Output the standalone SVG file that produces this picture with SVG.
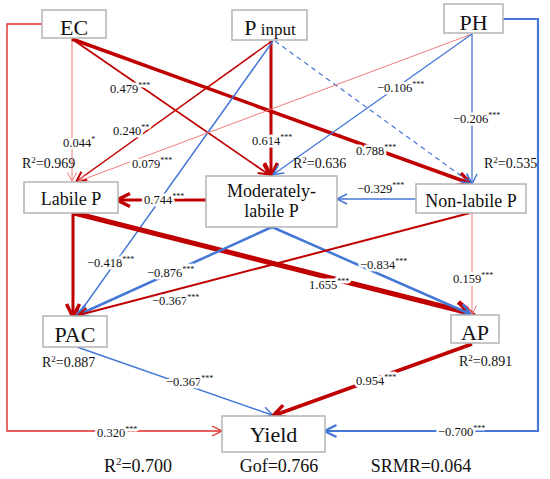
<svg xmlns="http://www.w3.org/2000/svg" width="550" height="479" viewBox="0 0 550 479" font-family="'Liberation Serif', 'DejaVu Serif', serif">
<style>
text{font-family:'Liberation Serif','DejaVu Serif',serif}
.bx{fill:#fff;stroke:#b4b4b4;stroke-width:1.5}
.nb{font-size:22px;fill:#111;text-anchor:middle}
.nm{font-size:18px;fill:#111;text-anchor:middle}
.lb{font-size:12.5px;fill:#111;stroke:#fff;stroke-width:5px;stroke-linejoin:round;paint-order:stroke}
.s{font-size:8px}
.r2{font-size:14px;fill:#111}
.ft{font-size:18px;fill:#111;text-anchor:middle}
.c{fill:none;stroke-linecap:butt}
.red{stroke:#c00000}
.blue{stroke:#4577d6}
.pink{stroke:#ef7b7b}
.bred{stroke:#e32b2b}
</style>
<defs>
<marker id="arP" markerUnits="userSpaceOnUse" viewBox="0 0 9 9" markerWidth="9" markerHeight="9" refX="8.5" refY="4.5" orient="auto" overflow="visible"><path d="M0,0 L9,4.5 L0,9" fill="none" stroke="#ef7b7b" stroke-width="1"/></marker>
<marker id="arB" markerUnits="userSpaceOnUse" viewBox="0 0 10 10" markerWidth="10" markerHeight="10" refX="9" refY="5" orient="auto" overflow="visible"><path d="M0,0 L10,5 L0,10" fill="none" stroke="#4577d6" stroke-width="1.5"/></marker>
<marker id="arBL" markerUnits="userSpaceOnUse" viewBox="0 0 12 12" markerWidth="12" markerHeight="12" refX="10.5" refY="6" orient="auto" overflow="visible"><path d="M0,0 L12,6 L0,12" fill="none" stroke="#4577d6" stroke-width="2.5"/></marker>
<marker id="arR" markerUnits="userSpaceOnUse" viewBox="0 0 10 10" markerWidth="10" markerHeight="10" refX="9" refY="5" orient="auto" overflow="visible"><path d="M0,0 L10,5 L0,10" fill="none" stroke="#c00000" stroke-width="2"/></marker>
<marker id="arRL" markerUnits="userSpaceOnUse" viewBox="0 0 13 13" markerWidth="13" markerHeight="13" refX="11" refY="6.5" orient="auto" overflow="visible"><path d="M0,0 L13,6.5 L0,13" fill="none" stroke="#c00000" stroke-width="3.5"/></marker>
<marker id="arRXL" markerUnits="userSpaceOnUse" viewBox="0 0 16 16" markerWidth="16" markerHeight="16" refX="13" refY="8" orient="auto" overflow="visible"><path d="M0,0 L16,8 L0,16" fill="none" stroke="#c00000" stroke-width="4.5"/></marker>
<marker id="arBR" markerUnits="userSpaceOnUse" viewBox="0 0 10 10" markerWidth="10" markerHeight="10" refX="9" refY="5" orient="auto" overflow="visible"><path d="M0,0 L10,5 L0,10" fill="none" stroke="#e32b2b" stroke-width="1.3"/></marker>
</defs>
<rect width="550" height="479" fill="#fff"/>
<g id="connectors">
<line class="c pink" stroke-width="1" x1="72" y1="39" x2="72" y2="181" marker-end="url(#arP)"/>
<line class="c red" stroke-width="1.8" x1="72" y1="39" x2="268" y2="174" marker-end="url(#arR)"/>
<line class="c red" stroke-width="3.5" x1="72" y1="39" x2="469" y2="183" marker-end="url(#arRL)"/>
<line class="c red" stroke-width="1.5" x1="272" y1="41" x2="77" y2="181" marker-end="url(#arR)"/>
<line class="c red" stroke-width="3" x1="271" y1="41" x2="271" y2="174" marker-end="url(#arRL)"/>
<line class="c blue" stroke-width="1.5" x1="273" y1="41" x2="78" y2="315" marker-end="url(#arB)"/>
<line class="c blue" stroke-width="1.2" stroke-dasharray="5,4" x1="275" y1="41" x2="471" y2="183" marker-end="url(#arB)"/>
<line class="c pink" stroke-width="1" x1="472" y1="34" x2="79" y2="181" marker-end="url(#arP)"/>
<line class="c blue" stroke-width="1.3" x1="472" y1="34" x2="274" y2="174" marker-end="url(#arB)"/>
<line class="c blue" stroke-width="1.3" x1="472" y1="34" x2="472" y2="183" marker-end="url(#arB)"/>
<polyline class="c blue" stroke-width="2.2" points="503,19 538,19 538,431 326,431" marker-end="url(#arBL)"/>
<polyline class="c bred" stroke-width="1.4" points="42,24 7,24 7,431 221,431" marker-end="url(#arBR)"/>
<line class="c red" stroke-width="3" x1="206" y1="200" x2="119" y2="200" marker-end="url(#arRL)"/>
<line class="c blue" stroke-width="1.5" x1="416" y1="199" x2="338" y2="199" marker-end="url(#arB)"/>
<line class="c red" stroke-width="5" x1="74" y1="213" x2="469" y2="313" marker-end="url(#arRXL)"/>
<line class="c red" stroke-width="3" x1="73" y1="213" x2="73" y2="315" marker-end="url(#arRL)"/>
<line class="c blue" stroke-width="2.5" x1="272" y1="227" x2="78" y2="315" marker-end="url(#arBL)"/>
<line class="c blue" stroke-width="2.5" x1="272" y1="227" x2="470" y2="314" marker-end="url(#arBL)"/>
<line class="c red" stroke-width="2" x1="470" y1="213" x2="79" y2="315" marker-end="url(#arR)"/>
<line class="c pink" stroke-width="1" x1="472" y1="213" x2="472" y2="314" marker-end="url(#arP)"/>
<line class="c blue" stroke-width="1.5" x1="77" y1="347" x2="272" y2="415" marker-end="url(#arB)"/>
<line class="c red" stroke-width="3.5" x1="472" y1="344" x2="275" y2="415" marker-end="url(#arRL)"/>
</g>
<g id="edge-labels">
<text class="lb" x="110" y="93">0.479<tspan class="s" dy="-5">***</tspan></text>
<text class="lb" x="113" y="135">0.240<tspan class="s" dy="-5">**</tspan></text>
<text class="lb" x="63" y="147">0.044<tspan class="s" dy="-5">*</tspan></text>
<text class="lb" x="132" y="168">0.079<tspan class="s" dy="-5">***</tspan></text>
<text class="lb" x="252" y="145">0.614<tspan class="s" dy="-5">***</tspan></text>
<text class="lb" x="356" y="155">0.788<tspan class="s" dy="-5">***</tspan></text>
<text class="lb" x="377" y="92">−0.106<tspan class="s" dy="-5">***</tspan></text>
<text class="lb" x="453" y="123">−0.206<tspan class="s" dy="-5">***</tspan></text>
<text class="lb" x="144" y="204">0.744<tspan class="s" dy="-5">***</tspan></text>
<text class="lb" x="357" y="193">−0.329<tspan class="s" dy="-5">***</tspan></text>
<text class="lb" x="87" y="267">−0.418<tspan class="s" dy="-5">***</tspan></text>
<text class="lb" x="147" y="277">−0.876<tspan class="s" dy="-5">***</tspan></text>
<text class="lb" x="152" y="305">−0.367<tspan class="s" dy="-5">***</tspan></text>
<text class="lb" x="309" y="289">1.655<tspan class="s" dy="-5">***</tspan></text>
<text class="lb" x="360" y="269">−0.834<tspan class="s" dy="-5">***</tspan></text>
<text class="lb" x="453" y="283">0.159<tspan class="s" dy="-5">***</tspan></text>
<text class="lb" x="166" y="386">−0.367<tspan class="s" dy="-5">***</tspan></text>
<text class="lb" x="356" y="385">0.954<tspan class="s" dy="-5">***</tspan></text>
<text class="lb" x="97" y="437">0.320<tspan class="s" dy="-5">***</tspan></text>
<text class="lb" x="438" y="436">−0.700<tspan class="s" dy="-5">***</tspan></text>
</g>
<g id="node-EC"><rect class="bx" x="42" y="10" width="64" height="28"/><text class="nb" x="74" y="35">EC</text></g>
<g id="node-Pinput"><rect class="bx" x="232" y="10" width="75" height="30"/><text class="nb" x="270" y="35">P<tspan font-size="17"> input</tspan></text></g>
<g id="node-PH"><rect class="bx" x="444" y="4" width="59" height="29"/><text class="nb" x="473.5" y="30">PH</text></g>
<g id="node-LabileP"><rect class="bx" x="24" y="182" width="94" height="31"/><text class="nm" x="71" y="205">Labile P</text></g>
<g id="node-ModeratelyLabileP"><rect class="bx" x="206" y="176" width="131" height="51"/><text class="nm" x="271.5" y="197">Moderately-</text><text class="nm" x="271.5" y="217">labile P</text></g>
<g id="node-NonLabileP"><rect class="bx" x="416" y="184" width="110" height="29"/><text class="nm" x="471" y="207">Non-labile P</text></g>
<g id="node-PAC"><rect class="bx" x="43" y="316" width="64" height="31"/><text class="nb" x="75" y="342">PAC</text></g>
<g id="node-AP"><rect class="bx" x="451" y="315" width="48" height="28"/><text class="nb" x="475" y="340">AP</text></g>
<g id="node-Yield"><rect class="bx" x="222" y="416" width="103" height="36"/><text class="nb" x="273.5" y="442">Yield</text></g>
<g id="r2-labels">
<text class="r2" x="22" y="168">R<tspan font-size="9" dy="-5">2</tspan><tspan dy="5">=0.969</tspan></text>
<text class="r2" x="293" y="168">R<tspan font-size="9" dy="-5">2</tspan><tspan dy="5">=0.636</tspan></text>
<text class="r2" x="484" y="168">R<tspan font-size="9" dy="-5">2</tspan><tspan dy="5">=0.535</tspan></text>
<text class="r2" x="42" y="367">R<tspan font-size="9" dy="-5">2</tspan><tspan dy="5">=0.887</tspan></text>
<text class="r2" x="459" y="366">R<tspan font-size="9" dy="-5">2</tspan><tspan dy="5">=0.891</tspan></text>
</g>
<g id="fit-indices">
<text class="ft" x="138" y="472">R<tspan font-size="11" dy="-7">2</tspan><tspan dy="7">=0.700</tspan></text>
<text class="ft" x="279" y="472">Gof=0.766</text>
<text class="ft" x="421" y="472">SRMR=0.064</text>
</g>
</svg>
